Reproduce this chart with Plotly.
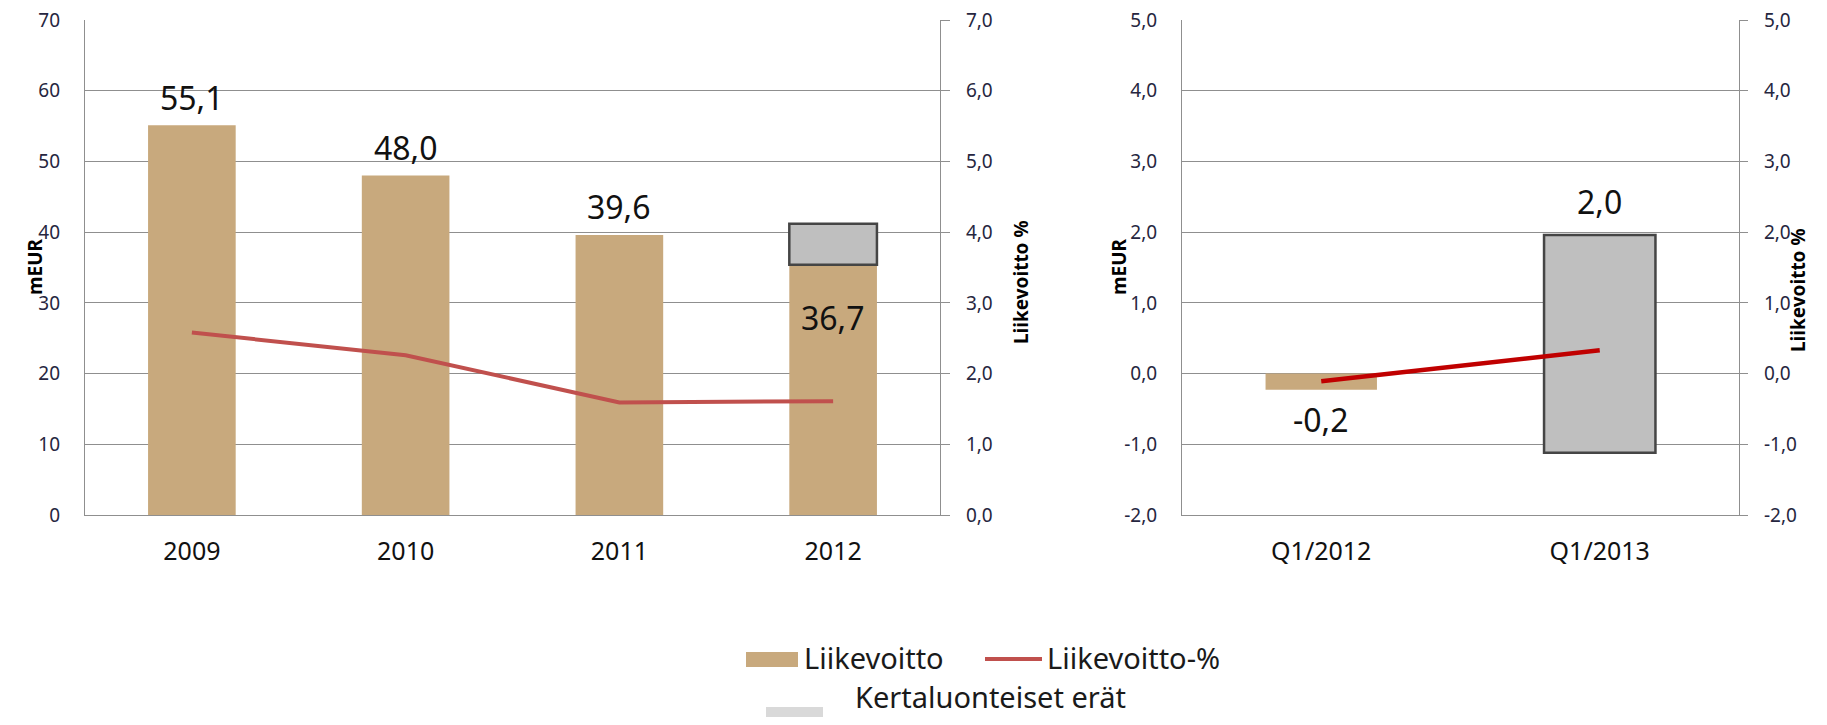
import plotly.graph_objects as go

# ── Data ──────────────────────────────────────────────────────────────────────
vuodet = ["2009", "2010", "2011", "2012"]
liikevoitto_v = [55.1, 48.0, 39.6, 36.7]
liikevoitto_pros_v = [2.58, 2.26, 1.59, 1.61]
kert_alku_v = [None, None, None, 35.4]
kert_loppu_v = [None, None, None, 41.2]

kvartaalit = ["Q1/2012", "Q1/2013"]
liikevoitto_q = [-0.23, 1.96]
liikevoitto_pros_q = [-0.11, 0.33]
kert_alku_q = [None, -1.12]
kert_loppu_q = [None, 1.96]

ticks_meur_v = [0, 10, 20, 30, 40, 50, 60, 70]
ticks_pros_v = [0.0, 1.0, 2.0, 3.0, 4.0, 5.0, 6.0, 7.0]
ticks_q = [-2.0, -1.0, 0.0, 1.0, 2.0, 3.0, 4.0, 5.0]

# ── Style ─────────────────────────────────────────────────────────────────────
PAGE_MARGIN = 8          # default body margin of the html page
W, H = 1827 - 2 * PAGE_MARGIN, 725 - 2 * PAGE_MARGIN
TAN = "#C8A97D"
GREY = "#BFBFBF"
GREY_EDGE = "#454545"
LEGEND_GREY = "#D9D9D9"
RED_V = "#C0504D"
RED_Q = "#C00000"
GRID = "#8F8F8F"
TICK_COL = "#262640"
FONT = "Noto Sans"

# label offsets (px) relative to the bar value
shift_v = [28, 28, 28, -62]
shift_q = [-30, 33]


def px(x):
    # window pixel -> paper fraction
    return (x - PAGE_MARGIN) / W


def py(y):
    return 1 - (y - PAGE_MARGIN) / H


def fmt(v, dec=1):
    return f"{v:.{dec}f}".replace(".", ",")


fig = go.Figure()

# left chart
fig.add_trace(go.Bar(x=vuodet, y=liikevoitto_v, width=0.41, marker_color=TAN,
                     marker_line_width=0, xaxis="x", yaxis="y", showlegend=False))
kx = [c for c, b in zip(vuodet, kert_alku_v) if b is not None]
kb = [b for b in kert_alku_v if b is not None]
kh = [t - b for t, b in zip(kert_loppu_v, kert_alku_v) if b is not None]
fig.add_trace(go.Bar(x=kx, y=kh, base=kb, width=0.41,
                     marker=dict(color=GREY, line=dict(color=GREY_EDGE, width=2.5)),
                     xaxis="x", yaxis="y", showlegend=False))
fig.add_trace(go.Scatter(x=vuodet, y=liikevoitto_pros_v, mode="lines",
                         line=dict(color=RED_V, width=4),
                         xaxis="x", yaxis="y2", showlegend=False))

# right chart
fig.add_trace(go.Bar(x=kvartaalit, y=liikevoitto_q, width=0.40, marker_color=TAN,
                     marker_line_width=0, xaxis="x2", yaxis="y3", showlegend=False))
qx = [c for c, b in zip(kvartaalit, kert_alku_q) if b is not None]
qb = [b for b in kert_alku_q if b is not None]
qh = [t - b for t, b in zip(kert_loppu_q, kert_alku_q) if b is not None]
fig.add_trace(go.Bar(x=qx, y=qh, base=qb, width=0.40,
                     marker=dict(color=GREY, line=dict(color=GREY_EDGE, width=2.5)),
                     xaxis="x2", yaxis="y3", showlegend=False))
fig.add_trace(go.Scatter(x=kvartaalit, y=liikevoitto_pros_q, mode="lines",
                         line=dict(color=RED_Q, width=4.5),
                         xaxis="x2", yaxis="y4", showlegend=False))

# value labels (category index as x, so "2009" is not read as a number)
ann = []
for i, (v, s) in enumerate(zip(liikevoitto_v, shift_v)):
    ann.append(dict(x=i, y=v, xref="x", yref="y", text=fmt(v), showarrow=False,
                    yanchor="middle", yshift=s, font=dict(size=32, color="#111")))
for i, (v, s) in enumerate(zip(liikevoitto_q, shift_q)):
    ann.append(dict(x=i, y=v, xref="x2", yref="y3", text=fmt(v), showarrow=False,
                    yanchor="middle", yshift=s, font=dict(size=32, color="#111")))

# axis titles
for x, y, t in [(20, 267, "mEUR"), (1021, 282, "Liikevoitto %"),
                (1119, 267, "mEUR"), (1813, 290, "Liikevoitto %")]:
    ann.append(dict(x=px(x), y=py(y), xref="paper", yref="paper", text=f"<b>{t}</b>",
                    textangle=-90, showarrow=False, font=dict(size=19, color="#000")))

# legend
shapes = [
    dict(type="rect", xref="paper", yref="paper", x0=px(746), x1=px(798),
         y0=py(667), y1=py(652), fillcolor=TAN, line_width=0),
    dict(type="line", xref="paper", yref="paper", x0=px(985), x1=px(1042),
         y0=py(659), y1=py(659), line=dict(color=RED_V, width=4)),
    dict(type="rect", xref="paper", yref="paper", x0=px(766), x1=px(823),
         y0=py(720), y1=py(707), fillcolor=LEGEND_GREY, line_width=0),
]
for x, y, t in [(802, 657, "Liikevoitto"), (1045, 657, "Liikevoitto-%"),
                (853, 696, "Kertaluonteiset erät")]:
    ann.append(dict(x=px(x), y=py(y), xref="paper", yref="paper", text=t,
                    xanchor="left", yanchor="middle", showarrow=False,
                    font=dict(size=29, color="#1a1a1a")))

y_dom = [py(515), py(20)]
yl_common = dict(showline=True, linecolor=GRID, linewidth=1.2, zeroline=False,
                 automargin=False, ticklabeloverflow="allow",
                 tickfont=dict(size=19, color=TICK_COL))
x_common = dict(type="category", showline=True, linecolor=GRID, linewidth=1.2,
                showgrid=False, ticks="", tickfont=dict(size=25, color="#111"),
                ticklabelstandoff=14, automargin=False)

fig.update_layout(
    width=W, height=H,
    margin=dict(l=0, r=0, t=0, b=0),
    paper_bgcolor="white", plot_bgcolor="white",
    font=dict(family=FONT, color="#111"),
    barmode="overlay",
    showlegend=False,
    xaxis=dict(domain=[px(85), px(940)], anchor="y", range=[-0.5, 3.5], **x_common),
    yaxis=dict(domain=y_dom, anchor="x", range=[0, 70],
               tickvals=ticks_meur_v, ticktext=[str(t) for t in ticks_meur_v],
               showgrid=True, gridcolor=GRID, gridwidth=1, ticks="",
               ticklabelstandoff=20, **yl_common),
    yaxis2=dict(overlaying="y", anchor="x", side="right", range=[0, 7],
                tickvals=ticks_pros_v, ticktext=[fmt(t) for t in ticks_pros_v],
                showgrid=False, ticks="outside", ticklen=9, tickcolor=GRID,
                ticklabelstandoff=12, **yl_common),
    xaxis2=dict(domain=[px(1182), px(1739)], anchor="y3", range=[-0.5, 1.5], **x_common),
    yaxis3=dict(domain=y_dom, anchor="x2", range=[-2, 5],
                tickvals=ticks_q, ticktext=[fmt(t) for t in ticks_q],
                showgrid=True, gridcolor=GRID, gridwidth=1, ticks="",
                ticklabelstandoff=20, **yl_common),
    yaxis4=dict(overlaying="y3", anchor="x2", side="right", range=[-2, 5],
                tickvals=ticks_q, ticktext=[fmt(t) for t in ticks_q],
                showgrid=False, ticks="outside", ticklen=8, tickcolor=GRID,
                ticklabelstandoff=12, **yl_common),
    annotations=ann,
    shapes=shapes,
)

fig.write_html("out.html")
